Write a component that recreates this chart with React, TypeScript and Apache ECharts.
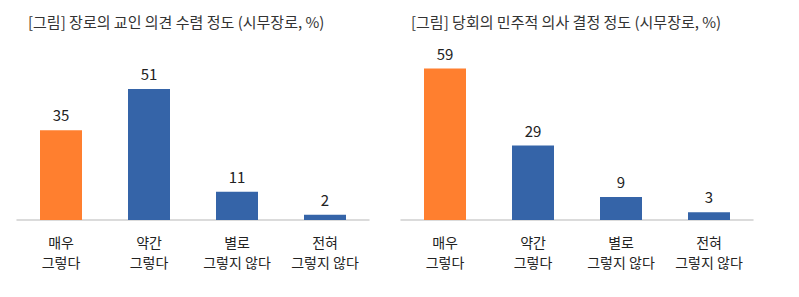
import React, { useEffect, useRef } from "react";
import * as echarts from "echarts";

const categories = ["매우\n그렇다", "약간\n그렇다", "별로\n그렇지 않다", "전혀\n그렇지 않다"];
const leftTitle = "[그림] 장로의 교인 의견 수렴 정도 (시무장로, %)";
const rightTitle = "[그림] 당회의 민주적 의사 결정 정도 (시무장로, %)";
const leftValues = [35, 51, 11, 2];
const rightValues = [59, 29, 9, 3];

const ORANGE = "#FF7F2F";
const BLUE = "#3564A8";
const FONT = "'Noto Sans CJK KR', 'Noto Sans', sans-serif";

export default function App() {
  const ref = useRef<HTMLDivElement>(null);
  useEffect(() => {
    if (!ref.current) return;
    const chart = echarts.init(ref.current, undefined, { renderer: "svg" });
    const mkData = (vals: number[]) =>
      vals.map((v, i) => ({ value: v, itemStyle: { color: i === 0 ? ORANGE : BLUE } }));
    const xAxisBase = {
      type: "category" as const,
      data: categories,
      axisLine: { lineStyle: { color: "#D0D0D0", width: 1.5 } },
      axisTick: { show: false },
      axisLabel: { color: "#222", fontSize: 14, lineHeight: 20, margin: 12, fontFamily: FONT, interval: 0 },
    };
    const yAxisBase = {
      type: "value" as const,
      min: 0,
      max: 60,
      show: false,
      splitLine: { show: false },
    };
    const label = { show: true, position: "top" as const, distance: 8, color: "#222", fontSize: 15, fontFamily: FONT };
    chart.setOption({
      animation: false,
      backgroundColor: "#fff",
      title: [
        { text: leftTitle, left: 23, top: 9, textStyle: { fontSize: 15, fontWeight: "normal", color: "#333", fontFamily: FONT } },
        { text: rightTitle, left: 406, top: 9, textStyle: { fontSize: 15, fontWeight: "normal", color: "#333", fontFamily: FONT } },
      ],
      grid: [
        { left: 17, width: 352, top: 66, bottom: 77 },
        { left: 401, width: 352, top: 66, bottom: 77 },
      ],
      xAxis: [
        { ...xAxisBase, gridIndex: 0 },
        { ...xAxisBase, gridIndex: 1 },
      ],
      yAxis: [
        { ...yAxisBase, gridIndex: 0 },
        { ...yAxisBase, gridIndex: 1 },
      ],
      series: [
        { type: "bar", xAxisIndex: 0, yAxisIndex: 0, data: mkData(leftValues), barWidth: 42, label },
        { type: "bar", xAxisIndex: 1, yAxisIndex: 1, data: mkData(rightValues), barWidth: 42, label },
      ],
    });
    return () => chart.dispose();
  }, []);
  return (
    <div
      ref={ref}
      style={{ position: "absolute", left: 0, top: 0, width: 799, height: 297 }}
    />
  );
}
